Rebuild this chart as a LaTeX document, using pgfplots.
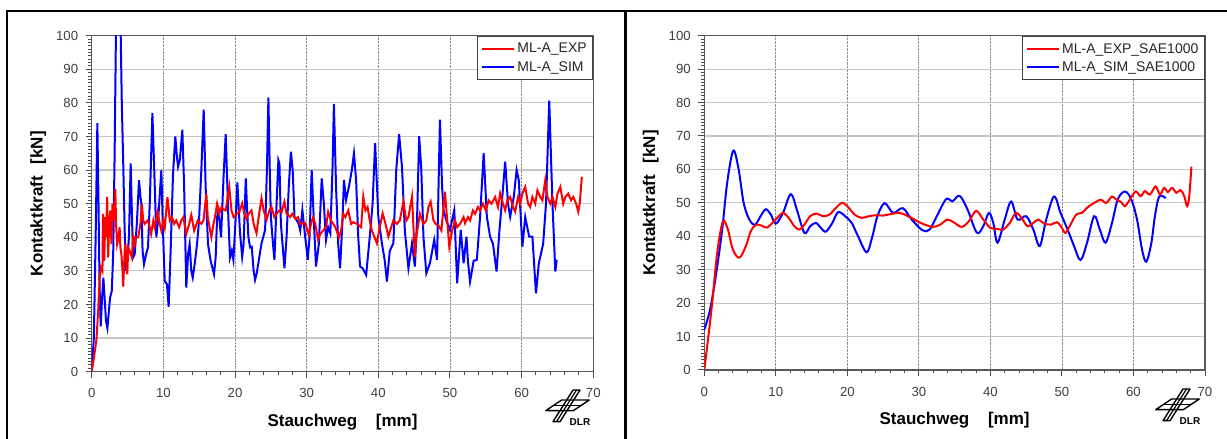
\documentclass[border=0pt]{standalone}
\usepackage{fontspec}
\setmainfont{Liberation Sans}
\usepackage{pgfplots}
\pgfplotsset{compat=1.18}

\pgfplotsset{
  dlraxis/.style={
    scale only axis,
    xmin=0, xmax=70, ymin=0, ymax=100,
    xtick={0,10,...,70}, ytick={0,10,...,100},
    minor x tick num=4, minor y tick num=9,
    tick align=outside,
    xtick pos=bottom, ytick pos=left,
    major tick length=6pt, minor tick length=3.5pt,
    tick style={black!70, line width=1pt},
    axis line style={black!65, line width=1.3pt},
    grid=major,
    x grid style={black!45, densely dotted, line width=0.8pt},
    y grid style={black!22, line width=1.2pt},
    /pgf/number format/assume math mode=true,
    tick label style={font=\fontsize{13.2}{14}\selectfont, text=black!75},
    xticklabel style={yshift=-7.5pt},
    yticklabel style={xshift=-4pt},
    legend style={at={(1,1)}, anchor=north east, draw=black!75, line width=1.2pt,
      fill=white, font=\fontsize{14}{15}\selectfont, text=black!85,
      inner xsep=4pt, inner ysep=5pt, row sep=3pt},
    legend cell align=left,
  }
}

\newcommand{\dlrlogo}{%
  \draw[line width=1.4pt, line join=round] (545.7,28.3) -- (561.7,39) -- (589.3,39) -- (573.3,28.3) -- cycle;
  \draw[line width=1.2pt] (553.7,33.65) -- (581.3,33.65);
  \draw[line width=1.4pt, line join=round] (553,17.3) -- (560,17.3) -- (580,49) -- (573,49) -- cycle;
  \draw[line width=1.2pt] (556.5,17.3) -- (576.5,49);
  \node[font=\bfseries\fontsize{10}{10}\selectfont, anchor=base] at (580,13) {DLR};
}

\begin{document}
\begin{tikzpicture}[x=1pt,y=1pt]
\useasboundingbox (0,0) rectangle (1227,439);
\fill[white] (0,0) rectangle (1227,439);

% frame
\draw[line width=2.2pt] (7,-5) -- (7,428) -- (1230,428);
\draw[line width=2.4pt] (625.5,-5) -- (625.5,428);

% ---------------- left panel ----------------
\begin{axis}[dlraxis, at={(91.7pt,67.3pt)}, anchor=south west,
  width=501.6pt, height=336pt]
\addlegendimage{red, line width=2pt, legend image code/.code={\draw[red, line width=2pt] (0pt,0pt) -- (32pt,0pt);}}
\addlegendentry{ML-A\_EXP}
\addlegendimage{blue, line width=2pt, legend image code/.code={\draw[blue, line width=2pt] (0pt,0pt) -- (32pt,0pt);}}
\addlegendentry{ML-A\_SIM}
\addplot[blue, line width=2pt, forget plot] coordinates {
(0,0) (0.3,10) (0.55,40) (0.79,74) (0.95,50) (1.1,25) (1.26,13.5) (1.45,22) (1.63,28) (1.8,22)
(2.0,15) (2.19,13) (2.4,18) (2.56,22) (2.8,24) (3.0,35) (3.2,65) (3.44,112) (3.9,112) (4.05,100)
(4.2,80) (4.4,62) (4.6,42) (4.8,30) (5.0,34) (5.2,40) (5.44,62) (5.6,48) (5.77,34) (6.0,35)
(6.3,44) (6.6,57) (6.8,52) (6.93,50) (7.1,36) (7.3,32) (7.6,35) (7.86,37) (8.1,50) (8.47,77)
(8.7,62) (9.02,40) (9.3,46) (9.72,60) (9.9,45) (10.19,27) (10.5,26) (10.74,19.3) (11.0,35) (11.35,59)
(11.67,70) (11.85,65) (12.05,61) (12.3,63) (12.65,72) (12.9,55) (13.2,25) (13.45,35) (13.67,38) (13.9,30)
(14.1,28) (14.37,32) (14.7,38) (14.98,45) (15.3,60) (15.63,78) (15.9,55) (16.23,38) (16.6,33) (17.07,29)
(17.3,34) (17.5,46) (17.7,48) (18.05,40) (18.4,58) (18.7,70.7) (19.07,46) (19.3,34) (19.55,36) (19.77,33.3)
(20.0,42) (20.33,56.3) (20.7,41.2) (21.0,34.2) (21.2,38) (21.5,57.5) (21.86,40.2) (22.1,37) (22.33,37.2) (22.6,30)
(22.8,27.3) (23.0,29) (23.26,32.3) (23.7,38.2) (24.2,42.2) (24.45,60) (24.66,81.6) (24.85,60) (25.0,46.1) (25.3,38)
(25.5,33.3) (25.8,50) (26.05,63) (26.2,62) (26.4,44.2) (26.7,36) (26.9,30.8) (27.2,40.2) (27.5,55) (27.8,65.5)
(28.05,60) (28.3,46.1) (28.85,44.2) (29.1,42) (29.4,48.1) (29.8,40) (30.15,33.3) (30.4,40) (30.7,60) (31.0,45)
(31.3,31.3) (31.7,38) (32.1,57.5) (32.4,50) (32.7,39.2) (33.0,43) (33.3,41.2) (33.6,60) (33.8,79.7) (34.1,55)
(34.4,38) (34.66,30.8) (35.0,45) (35.2,57.1) (35.5,51.1) (35.9,55.1) (36.3,60) (36.6,65) (36.9,57) (37.2,40)
(37.45,31.3) (37.8,30.8) (38.3,28.8) (38.85,41.2) (39.2,50) (39.55,68) (39.8,56) (40.0,46) (40.5,38.2) (40.9,33)
(41.2,26.8) (41.6,36) (42.1,38.2) (42.5,60) (42.9,70.7) (43.3,61) (43.7,42) (44.2,30.8) (44.7,38.2) (45.1,31.3)
(45.4,45) (45.7,70.1) (46.0,60) (46.3,40) (46.7,29.3) (47.2,32.3) (47.8,39.2) (48.2,33.3) (48.4,55) (48.6,75)
(48.9,55) (49.1,48.1) (49.5,45) (50.0,42.2) (50.6,48.1) (51.0,26.3) (51.5,42.2) (51.9,32.3) (52.3,40.2) (52.5,33)
(52.8,26.8) (53.3,33) (53.75,33.3) (54.2,46.1) (54.7,65) (55.15,46) (55.6,40.2) (56.0,38) (56.5,29.8) (56.9,42)
(57.3,52) (57.7,62.5) (58.1,50) (58.4,46.1) (58.9,52) (59.3,60) (59.6,57) (60.1,37.2) (60.5,46) (61.05,40.2)
(61.5,40.2) (62.0,23.3) (62.4,32.3) (63.0,38) (63.4,50) (63.85,80.7) (64.3,50.1) (64.7,29.8) (64.9,33.3)
};
\addplot[red, line width=2pt, forget plot] coordinates {
(0,0) (0.3,4) (0.66,9.5) (0.9,18) (1.12,28) (1.3,31) (1.5,30) (1.58,47) (1.75,33) (1.9,46)
(2.0,40) (2.16,52) (2.3,34) (2.45,45) (2.6,48) (2.75,38) (2.9,50) (3.07,45) (3.3,54.3) (3.4,44)
(3.55,38) (3.75,40) (3.9,43) (4.0,37) (4.14,35) (4.3,30) (4.4,25.3) (4.6,36) (4.7,38) (4.97,29)
(5.1,37) (5.3,36) (5.6,34) (5.8,40) (6.0,38) (6.1,40) (6.5,40) (6.8,44) (7.0,50) (7.2,45)
(7.4,44) (7.8,45) (8.0,44) (8.3,41) (8.6,45) (8.8,43) (9.2,47.6) (9.5,44) (9.72,42) (10.0,45)
(10.2,43) (10.57,52) (10.9,45) (11.2,46) (11.5,44) (11.8,45) (12.2,43) (12.5,45) (12.8,46) (13.2,41)
(13.6,44) (13.9,46.6) (14.3,42) (14.8,45) (15.3,44) (15.6,45) (16.0,53) (16.2,46) (16.7,40) (17.0,44)
(17.2,46) (17.5,50) (17.8,47) (18.1,49) (18.5,48.1) (18.7,48) (19.2,55.1) (19.5,48) (19.8,46) (20.2,47)
(20.6,47.5) (21.0,50.1) (21.3,47) (21.6,45.5) (21.9,47) (22.3,48) (22.6,44) (23.0,41.2) (23.3,46) (23.7,51.6)
(24.0,48) (24.4,45.2) (24.8,48) (25.1,49) (25.5,46) (25.8,47) (26.2,48) (26.5,47.5) (26.9,50.6) (27.2,47)
(27.7,46) (28.0,47) (28.4,45.5) (28.8,46) (29.1,44) (29.8,44.2) (30.3,40.7) (30.6,44) (30.9,46) (31.2,44)
(31.6,39.2) (31.9,41) (32.3,42) (32.7,43) (33.0,47.6) (33.4,45) (33.7,44) (34.0,43) (34.5,40) (34.8,42)
(35.1,47) (35.4,46) (35.8,48) (36.2,44) (36.5,44.5) (37.0,44) (37.6,43) (37.9,52.1) (38.2,48) (38.5,49)
(38.8,45) (39.1,42) (39.8,38.2) (40.1,42) (40.6,47.1) (41.0,44) (41.4,40.2) (41.8,43) (42.1,45) (42.6,44)
(43.0,45) (43.5,50.6) (43.9,45) (44.2,46) (44.7,52.1) (45.1,34.2) (45.3,40) (45.8,47) (46.3,44) (46.7,45)
(47.0,49) (47.3,50.6) (47.7,45) (48.0,44) (48.4,43.5) (48.8,42) (49.3,53.6) (49.9,37.2) (50.3,42) (50.7,45)
(51.0,43) (51.4,44) (51.9,46) (52.1,44.2) (52.5,46) (52.8,45) (53.2,48) (53.5,47) (53.9,49) (54.2,48)
(54.6,50) (55.0,48) (55.4,51) (55.8,50) (56.3,52) (56.7,49) (57.0,53.1) (57.4,50) (57.7,48) (58.0,51)
(58.4,52) (58.8,49) (59.1,47.6) (59.5,52) (59.8,50) (60.1,53) (60.5,55) (60.9,50) (61.2,49) (61.5,52)
(61.9,50) (62.2,54) (62.6,52) (62.9,51) (63.3,57) (63.6,52) (64.0,50) (64.3,52) (64.7,49) (65.0,53)
(65.4,55) (65.8,50) (66.1,52) (66.5,53) (66.9,51) (67.2,52) (67.6,50) (67.9,47.6) (68.1,50) (68.4,58)
};
\end{axis}

% ---------------- right panel ----------------
\begin{axis}[dlraxis, at={(704.3pt,69pt)}, anchor=south west,
  width=500.7pt, height=334.3pt]
\addlegendimage{red, line width=2pt, legend image code/.code={\draw[red, line width=2pt] (0pt,0pt) -- (32pt,0pt);}}
\addlegendentry{ML-A\_EXP\_SAE1000}
\addlegendimage{blue, line width=2pt, legend image code/.code={\draw[blue, line width=2pt] (0pt,0pt) -- (32pt,0pt);}}
\addlegendentry{ML-A\_SIM\_SAE1000}
\addplot[blue, line width=2pt, smooth, tension=0.55, forget plot] coordinates {
(0,12) (0.8,18) (1.6,28) (2.5,42) (3.2,56) (4.05,65.6) (4.8,60) (5.5,50) (6.3,45) (7.1,43.5)
(8.0,46.5) (8.6,48.1) (9.3,46.5) (10.0,43.8) (11.0,47) (12.1,52.6) (13.0,47.5) (14.0,41) (14.8,43) (15.6,44)
(16.3,42.5) (17.0,41.4) (17.9,44) (18.7,47.2) (19.7,46) (20.6,44) (21.5,40) (22.7,35.2) (23.5,40) (24.2,46)
(25.2,49.9) (26.4,47) (27.75,48.4) (29.0,45) (30.5,41.8) (31.5,42) (32.5,46) (33.8,51.1) (34.7,50.5) (35.7,52.1)
(36.8,48) (38.1,41.1) (39.0,43) (39.8,47) (40.4,44) (41.0,38.1) (42.0,45) (42.9,50.4) (43.8,45) (45.0,46)
(46.0,42) (46.9,37.1) (47.8,45) (48.9,51.9) (49.8,47) (50.8,42) (51.7,37) (52.6,32.9) (53.5,38) (54.5,46)
(55.3,42) (56.1,38.1) (57.0,44) (57.8,51) (58.8,53.4) (59.7,51) (60.5,45) (61.2,36) (61.8,32.4) (62.5,38)
(63.0,46) (63.6,51.9) (64.5,51.4)
};
\addplot[red, line width=2pt, smooth, tension=0.55, forget plot] coordinates {
(0,0) (1.0,18) (1.8,35) (2.6,44.4) (3.3,42) (4.0,36) (4.9,33.6) (5.8,37) (6.5,41.5) (7.3,43.5)
(8.2,43) (8.8,42.6) (9.5,44) (10.2,45.5) (11.0,47) (11.8,45.5) (12.6,43) (13.3,42) (14.0,43.5) (14.8,46)
(15.7,46.8) (16.6,46) (17.5,46.5) (18.4,48.5) (19.3,50) (20.2,48.5) (21.0,46.5) (22.0,45.5) (23.0,46) (24.0,46.3)
(25.0,46.2) (26.0,46.6) (27.3,47) (28.5,46) (29.8,44.5) (30.8,43.5) (32.0,42.8) (33.0,43.5) (34.0,45) (35.0,44)
(36.0,42.8) (37.0,44.5) (38.0,47.6) (39.0,45) (40.0,42.5) (41.0,42.2) (41.8,42) (42.7,44) (43.6,47) (44.5,45)
(45.2,43) (46.0,44) (46.7,45) (47.5,43.8) (48.5,43.5) (49.3,44.2) (50.0,42.5) (50.5,41) (51.2,43.5) (52.0,46.5)
(52.8,47) (53.5,48.5) (54.3,49.7) (55.4,50.9) (56.2,50) (57.0,51.9) (57.6,51) (58.3,50.2) (58.8,49) (59.5,51)
(60.3,53.4) (61.0,52) (61.6,53.5) (62.3,52.5) (63.1,54.9) (63.7,52.5) (64.3,54.5) (64.8,53.2) (65.4,54.5) (66.0,53)
(66.6,53.8) (67.1,52) (67.5,49) (67.8,52) (68.1,60.8)
};
\end{axis}

% axis titles
\node[rotate=90, anchor=base, font=\bfseries\fontsize{17}{17}\selectfont] at (42.5,235.3) {Kontaktkraft\hspace{0.7em}[kN]};
\node[anchor=base, font=\bfseries\fontsize{17}{17}\selectfont] at (342.5,12.5) {Stauchweg\hspace{1.1em}[mm]};
\node[rotate=90, anchor=base, font=\bfseries\fontsize{17}{17}\selectfont] at (655,236.2) {Kontaktkraft\hspace{0.7em}[kN]};
\node[anchor=base, font=\bfseries\fontsize{17}{17}\selectfont] at (954.6,14.5) {Stauchweg\hspace{1.1em}[mm]};

% logos
\begin{scope}\dlrlogo\end{scope}
\begin{scope}[shift={(610,1)}]\dlrlogo\end{scope}
\end{tikzpicture}
\end{document}
